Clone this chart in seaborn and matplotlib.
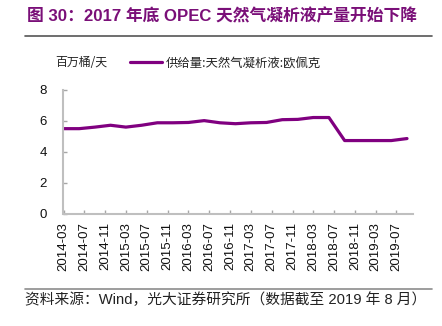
import matplotlib
matplotlib.use("Agg")
import matplotlib.pyplot as plt
import matplotlib.dates as mdates
import pandas as pd
import seaborn as sns

# OPEC natural gas liquids supply, million barrels per day (quarterly)
dates = ["2014-03", "2014-06", "2014-09", "2014-12",
         "2015-03", "2015-06", "2015-09", "2015-12",
         "2016-03", "2016-06", "2016-09", "2016-12",
         "2017-03", "2017-06", "2017-09", "2017-12",
         "2018-03", "2018-06", "2018-09", "2018-12",
         "2019-03", "2019-06", "2019-09"]
supply = [5.50, 5.50, 5.60, 5.72,
          5.60, 5.72, 5.88, 5.88,
          5.90, 6.02, 5.88, 5.82,
          5.88, 5.90, 6.08, 6.10,
          6.22, 6.22, 4.73, 4.73,
          4.73, 4.73, 4.86]
series_name = "供给量:天然气凝析液:欧佩克"
unit_label = "百万桶/天"
title_text = "图 30：2017 年底 OPEC 天然气凝析液产量开始下降"
source_text = "资料来源：Wind，光大证券研究所（数据截至 2019 年 8 月）"
y_ticks = [0, 2, 4, 6, 8]

df = pd.DataFrame({"date": pd.to_datetime(dates), "value": supply})

sns.set_theme(style="white")
plt.rcParams["font.family"] = ["Noto Sans CJK SC", "DejaVu Sans"]
MIXED = ["Liberation Sans", "Noto Sans CJK SC", "DejaVu Sans"]

LINE = "#800080"
TITLE = "#7A0F78"
SPINE = "#BFBFBF"
W, H = 442, 326

fig = plt.figure(figsize=(W / 100, H / 100), dpi=100)
ax = fig.add_axes([63.5 / W, 1 - 213.7 / H, (413 - 63.5) / W, (213.7 - 90) / H])

sns.lineplot(data=df, x="date", y="value", ax=ax, color=LINE, linewidth=2.3,
             legend=False)

ax.set_ylim(0, 8)
ax.set_yticks(y_ticks)
ax.set_xlim(pd.Timestamp("2014-03-01"), pd.Timestamp("2019-10-06"))
ax.xaxis.set_major_locator(mdates.MonthLocator(bymonth=[3, 7, 11]))
ax.xaxis.set_major_formatter(mdates.DateFormatter("%Y-%m"))
ax.set_xlabel("")
ax.set_ylabel("")

for lab in ax.get_xticklabels():
    lab.set_rotation(90)
    lab.set_family(MIXED)
    lab.set_fontsize(9.5)
for lab in ax.get_yticklabels():
    lab.set_family(MIXED)
    lab.set_fontsize(9.5)

ax.tick_params(axis="both", direction="in", length=3, width=1, color="#A6A6A6",
               labelcolor="#111111", bottom=True, left=True)
ax.tick_params(axis="y", pad=12)
ax.tick_params(axis="x", pad=6)
for side in ["top", "right"]:
    ax.spines[side].set_visible(False)
for side in ["left", "bottom"]:
    ax.spines[side].set_color(SPINE)
    ax.spines[side].set_linewidth(1.5)

# Unit label and legend entry above the plot
fig.text(55 / W, 1 - 63 / H, unit_label, fontsize=8.6, color="#222222",
         va="center", ha="left")
fig.add_artist(plt.Line2D([130 / W, 162 / W], [1 - 62 / H, 1 - 62 / H],
                          color=LINE, linewidth=2.3))
fig.text(166 / W, 1 - 63 / H, series_name, fontsize=8.9, color="#222222",
         va="center", ha="left")

# Title with rule underneath
fig.text(27 / W, 1 - 16 / H, title_text, fontsize=12.1, fontweight="bold",
         color=TITLE, va="center", ha="left", family=MIXED)
fig.add_artist(plt.Line2D([25 / W, 432 / W], [1 - 35.5 / H, 1 - 35.5 / H],
                          color="#555555", linewidth=1.2))

# Source note with rule above
fig.add_artist(plt.Line2D([25 / W, 432 / W], [1 - 288.5 / H, 1 - 288.5 / H],
                          color="#8C8C8C", linewidth=1.2))
fig.text(25 / W, 1 - 300 / H, source_text, fontsize=10.6, color="#222222",
         va="center", ha="left", family=MIXED)

fig.savefig("out.png", dpi=100, facecolor="white")
